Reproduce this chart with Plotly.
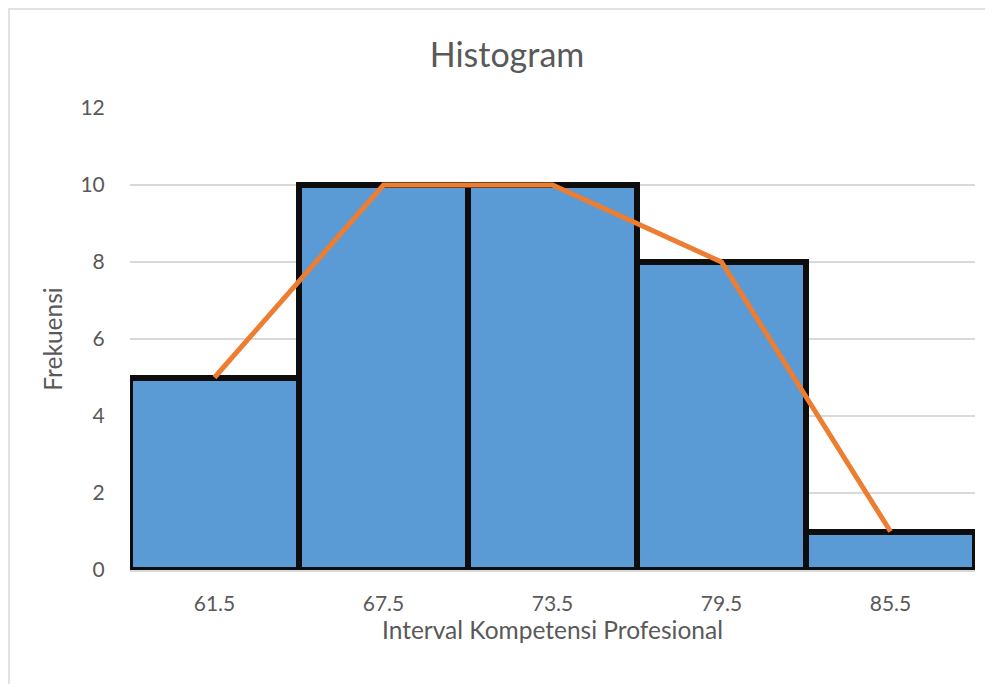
import plotly.graph_objects as go

categories = ["61.5", "67.5", "73.5", "79.5", "85.5"]
frequencies = [5, 10, 10, 8, 1]
y_ticks = [0, 2, 4, 6, 8, 10, 12]

font_family = "Lato, Open Sans, sans-serif"
text_color = "#595959"

L, R, T, B = 122, 26, 100, 122
W, H = 993, 684
pw, ph = W - L - R, H - T - B

fig = go.Figure()
fig.add_trace(go.Bar(
    x=categories, y=frequencies,
    marker=dict(color="#5B9BD5", line=dict(color="#0D0D0D", width=6)),
    showlegend=False, hoverinfo="x+y",
))
fig.add_trace(go.Scatter(
    x=categories, y=frequencies, mode="lines",
    line=dict(color="#ED7D31", width=5),
    showlegend=False,
))

fig.update_layout(
    width=W, height=H,
    margin=dict(l=L, r=R, t=T, b=B),
    paper_bgcolor="white", plot_bgcolor="white",
    bargap=0,
    font=dict(family=font_family, color=text_color, size=21),
    title=dict(text="Histogram", x=(507 - 8) / W, xanchor="center", y=1 - 47 / H, yanchor="middle",
               font=dict(size=34, color=text_color, family=font_family)),
    xaxis=dict(
        type="category", showgrid=False, showline=True, linecolor="#D9D9D9", linewidth=1.5,
        ticks="outside", ticklen=14, tickcolor="rgba(0,0,0,0)",
        title=dict(text="Interval Kompetensi Profesional", standoff=3, font=dict(size=24.5)),
    ),
    yaxis=dict(
        range=[0, 12], tickvals=y_ticks, showgrid=True, gridcolor="#D9D9D9", gridwidth=1.5,
        zeroline=False, showline=False,
        ticks="outside", ticklen=20, tickcolor="rgba(0,0,0,0)",
        title=dict(text="Frekuensi", standoff=10, font=dict(size=24.5)),
    ),
    shapes=[dict(type="rect", xref="paper", yref="paper",
                 x0=-(L - 1) / pw, x1=1 + 200 / pw, y0=-400 / ph, y1=1 + (T - 1) / ph,
                 line=dict(color="#D9D9D9", width=1.5), fillcolor="rgba(0,0,0,0)", layer="below")],
)

fig.write_html("out.html")
